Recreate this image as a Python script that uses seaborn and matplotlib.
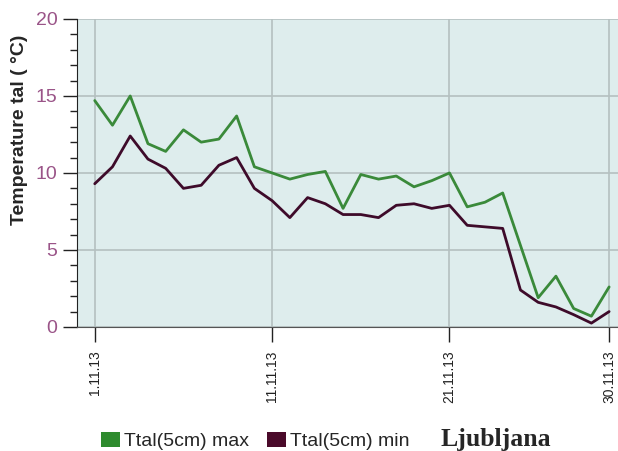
import numpy as np
import pandas as pd
import matplotlib
matplotlib.use("Agg")
import matplotlib.pyplot as plt
import seaborn as sns
from matplotlib.patches import Patch
from matplotlib.ticker import MultipleLocator

# daily soil temperature at 5 cm, Ljubljana, November 2013
days = list(range(1, 31))
t_max = [14.7, 13.1, 15.0, 11.9, 11.4, 12.8, 12.0, 12.2, 13.7, 10.4,
         10.0, 9.6, 9.9, 10.1, 7.7, 9.9, 9.6, 9.8, 9.1, 9.5,
         10.0, 7.8, 8.1, 8.7, 5.3, 1.9, 3.3, 1.2, 0.7, 2.6]
t_min = [9.3, 10.4, 12.4, 10.9, 10.3, 9.0, 9.2, 10.5, 11.0, 9.0,
         8.2, 7.1, 8.4, 8.0, 7.3, 7.3, 7.1, 7.9, 8.0, 7.7,
         7.9, 6.6, 6.5, 6.4, 2.4, 1.6, 1.3, 0.8, 0.25, 1.0]
tick_days = [1, 11, 21, 30]
tick_labels = ["1.11.13", "11.11.13", "21.11.13", "30.11.13"]
series_names = ["Ttal(5cm) max", "Ttal(5cm) min"]
colors = ["#3a8a3a", "#3e0b2a"]

df = pd.DataFrame({"day": days * 2,
                   "temp": t_max + t_min,
                   "series": [series_names[0]] * len(days) + [series_names[1]] * len(days)})

sns.set_style("white")
plt.rcParams["font.family"] = ["Liberation Sans", "DejaVu Sans"]

fig = plt.figure(figsize=(6.18, 4.51), dpi=100)
ax = fig.add_axes([0.1246, 0.275, 0.8754, 0.683])
ax.set_facecolor("#deeded")

sns.lineplot(data=df, x="day", y="temp", hue="series", palette=colors,
             linewidth=2.0, legend=False, ax=ax)

ax.set_xlim(0, 30.5)
ax.set_ylim(0, 20)
ax.set_xticks(tick_days)
ax.set_xticklabels(tick_labels, rotation=90, fontsize=10, color="#222222")
ax.yaxis.set_major_locator(MultipleLocator(5))
ax.yaxis.set_minor_locator(MultipleLocator(1))
ax.tick_params(axis="y", which="major", length=10, width=1, color="#222222",
               labelsize=14, labelcolor="#9a5488", pad=4, left=True)
ax.tick_params(axis="y", which="minor", length=5, width=1, color="#222222", left=True)
ax.tick_params(axis="x", length=11, width=1, color="#222222", pad=6, bottom=True)

ax.grid(True, which="major", color="#b4c0c0", linewidth=1.2)
for s in ["top", "right"]:
    ax.spines[s].set_visible(False)
ax.spines["left"].set_color("#222222")
ax.spines["bottom"].set_color("#555555")

ax.set_xlabel("")
ax.set_ylabel("Temperature tal ( °C)", fontsize=14, fontweight="bold")
ax.yaxis.set_label_coords(-0.09, 0.64)

handles = [Patch(facecolor="#2e8b2e", edgecolor="none"),
           Patch(facecolor="#4a0a2a", edgecolor="none")]
fig.legend(handles, series_names, loc="center left", bbox_to_anchor=(0.135, 0.022),
           ncol=2, frameon=False, fontsize=14, handlelength=1.0, handleheight=0.8,
           handletextpad=0.2, columnspacing=0.9)
fig.text(0.712, 0.025, "Ljubljana", fontsize=18.5, fontweight="bold",
         family="Liberation Serif", va="center")

fig.savefig("out.png", dpi=100)
